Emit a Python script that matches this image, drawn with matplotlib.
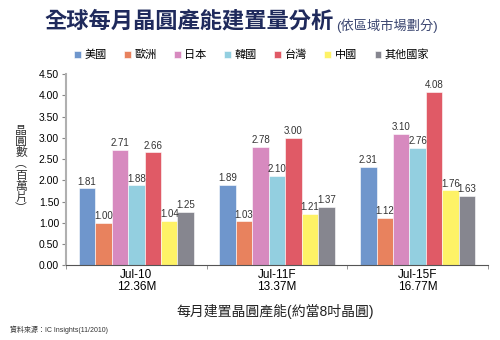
import matplotlib.pyplot as plt
import numpy as np

plt.rcParams['font.family'] = ['Liberation Sans', 'Noto Sans CJK TC', 'DejaVu Sans']

# 資料
periods = ["Jul-10\n12.36M", "Jul-11F\n13.37M", "Jul-15F\n16.77M"]
regions = ["美國", "歐洲", "日本", "韓國", "台灣", "中國", "其他國家"]
usa = [1.81, 1.89, 2.31]
europe = [1.00, 1.03, 1.12]
japan = [2.71, 2.78, 3.10]
korea = [1.88, 2.10, 2.76]
taiwan = [2.66, 3.00, 4.08]
china = [1.04, 1.21, 1.76]
others = [1.25, 1.37, 1.63]
series = [usa, europe, japan, korea, taiwan, china, others]
colors = ["#6f96cc", "#e8825e", "#d78abf", "#93cfe0", "#e05a66", "#fef266", "#86868f"]

fig = plt.figure(figsize=(5, 3.4), dpi=100)
ax = fig.add_axes([0.132, 0.22, 0.844, 0.562])

x = np.arange(len(periods))
w = 0.117
for i, (vals, c, name) in enumerate(zip(series, colors, regions)):
    pos = x + (i - 3) * w
    ax.bar(pos, vals, width=w, color=c, edgecolor="white", linewidth=0.4, label=name)
    for p, v in zip(pos, vals):
        ax.text(p, v + 0.04, f"{v:.2f}", ha="center", va="bottom", fontsize=7, color="#333333")

ax.set_xlim(-0.5, 2.5)
ax.set_ylim(0, 4.5)
ax.set_yticks(np.arange(0, 4.51, 0.5))
ax.set_yticklabels([f"{t:.2f}" for t in np.arange(0, 4.51, 0.5)], fontsize=7.5)
ax.set_xticks(x)
ax.set_xticklabels(periods, fontsize=8.5, linespacing=1.0)
ax.tick_params(axis="x", length=0, pad=3)
ax.set_xticks([-0.5, 0.5, 1.5, 2.5], minor=True)
ax.tick_params(axis="x", which="minor", length=3, color="#888888")
ax.tick_params(axis="y", length=3, color="#888888", pad=2)

for s in ["top", "right"]:
    ax.spines[s].set_visible(False)
ax.spines["left"].set_color("#b0b0b0")
ax.spines["left"].set_linewidth(1.5)
ax.spines["bottom"].set_color("#555555")
ax.spines["bottom"].set_linewidth(0.8)

# 縱軸標題（直書）
fig.text(0.042, 0.5, "晶\n圓\n數\n︵\n百\n萬\n片\n︶", ha="center", va="center",
         fontsize=8.5, color="#333333", linespacing=0.92)

# 標題
fig.text(0.088, 0.935, "全球每月晶圓產能建置量分析", fontsize=16, fontweight="bold",
         color="#1f2a5c", va="center", ha="left")
fig.text(0.672, 0.925, "(依區域市場劃分)", fontsize=9.5, color="#3a4570", va="center", ha="left")

ax.legend(loc="lower center", bbox_to_anchor=(0.44, 1.02), ncol=7, fontsize=8, frameon=False,
          handlelength=0.6, handleheight=0.6, handletextpad=0.3, columnspacing=1.6)

fig.text(0.55, 0.083, "每月建置晶圓產能(約當8吋晶圓)", ha="center", va="center", fontsize=10,
         color="#222222")
fig.text(0.02, 0.03, "資料來源：IC Insights(11/2010)", ha="left", va="center", fontsize=5,
         color="#333333")

fig.savefig("out.png", dpi=100)
